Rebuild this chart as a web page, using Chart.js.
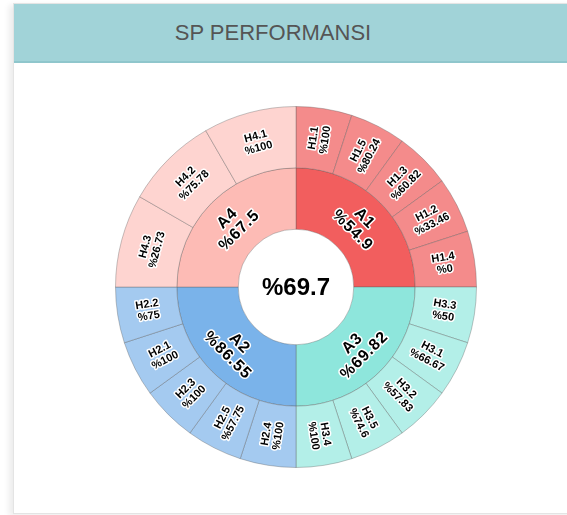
<!DOCTYPE html>
<html>
<head>
<meta charset="utf-8">
<script src="https://cdn.jsdelivr.net/npm/chart.js@4/dist/chart.umd.min.js"></script>
<style>
    body { margin: 0; background: #fff; font-family: "Liberation Sans", Arial, sans-serif; }
    .card {
        position: absolute; left: 13px; top: 3px; width: 570px; height: 509px;
        background: #fff; border: 1px solid #e4e4e4;
        box-shadow: -4px 2px 6px rgba(0,0,0,0.08);
    }
    .card-header {
        height: 57px; background: #a1d3d8; border-bottom: 2px solid #8fc6cc;
        color: #555; font-size: 22px; line-height: 57px; text-align: center;
        padding-right: 52px;
    }
    #wrap { position: absolute; left: 106px; top: 97px; width: 380px; height: 380px; }
</style>
</head>
<body>
<div class="card"><div class="card-header">SP PERFORMANSI</div></div>
<div id="wrap"><canvas id="myChart"></canvas></div>
<script>
// grupos (anillo interior), en orden horario desde arriba
const groupLabels = ['A1', 'A3', 'A2', 'A4'];
const groupValues = [54.9, 69.82, 86.55, 67.5];
const totalValue = 69.7;

// hijos de cada grupo (anillo exterior)
const a1Items = ['H1.1', 'H1.5', 'H1.3', 'H1.2', 'H1.4'];
const a1Values = [100, 80.24, 60.82, 33.46, 0];
const a3Items = ['H3.3', 'H3.1', 'H3.2', 'H3.5', 'H3.4'];
const a3Values = [50, 66.67, 57.83, 74.6, 100];
const a2Items = ['H2.4', 'H2.5', 'H2.3', 'H2.1', 'H2.2'];
const a2Values = [100, 57.75, 100, 100, 75];
const a4Items = ['H4.3', 'H4.2', 'H4.1'];
const a4Values = [26.73, 75.78, 100];

const groupColors = ['#f25e5e', '#8ee6dc', '#7ab3ea', '#fdbbb5'];
const itemColors = ['#f48b8b', '#b3efe8', '#a4caf0', '#fed4d0'];

const groupItems = [a1Items, a3Items, a2Items, a4Items];
const groupItemValues = [a1Values, a3Values, a2Values, a4Values];

// anillo exterior
const outer = { data: [], backgroundColor: [], labelLines: [], labelMode: [], labelFont: 11, labelLineH: 12, labelSp: '0px' };
groupItems.forEach((items, g) => {
    items.forEach((name, i) => {
        outer.data.push(1 / items.length);
        outer.backgroundColor.push(itemColors[g]);
        outer.labelLines.push([name, '%' + groupItemValues[g][i]]);
        outer.labelMode.push(g === 3 ? 'tan' : 'rad');
    });
});

const inner = {
    data: groupLabels.map(() => 1),
    backgroundColor: groupColors,
    labelLines: groupLabels.map((l, i) => [l, '%' + groupValues[i]]),
    labelMode: groupLabels.map(() => 'tan'),
    labelFont: 16, labelLineH: 17, labelSp: '1px'
};

const ringLabels = {
    id: 'ringLabels',
    afterDatasetsDraw(chart) {
        const ctx = chart.ctx;
        chart.data.datasets.forEach((ds, di) => {
            const meta = chart.getDatasetMeta(di);
            meta.data.forEach((arc, i) => {
                const p = arc.getProps(['x', 'y', 'startAngle', 'endAngle', 'innerRadius', 'outerRadius'], true);
                const a = (p.startAngle + p.endAngle) / 2;
                const r = (p.innerRadius + p.outerRadius) / 2;
                let rot = ds.labelMode[i] === 'tan' ? a + Math.PI / 2 : a;
                if (Math.cos(rot) < -1e-6) rot += Math.PI;
                const lines = ds.labelLines[i];
                ctx.save();
                ctx.translate(p.x + r * Math.cos(a), p.y + r * Math.sin(a));
                ctx.rotate(rot);
                ctx.font = 'bold ' + ds.labelFont + 'px "Liberation Sans", Arial, sans-serif';
                ctx.letterSpacing = ds.labelSp;
                ctx.textAlign = 'center';
                ctx.textBaseline = 'middle';
                ctx.lineJoin = 'round';
                ctx.lineWidth = 3;
                ctx.strokeStyle = '#fff';
                ctx.fillStyle = '#000';
                lines.forEach((t, k) => {
                    const yy = (k - (lines.length - 1) / 2) * ds.labelLineH;
                    ctx.strokeText(t, 0, yy);
                    ctx.fillText(t, 0, yy);
                });
                ctx.restore();
            });
        });
        // texto central
        const m = chart.getDatasetMeta(1).data[0];
        ctx.save();
        ctx.font = 'bold 24px "Liberation Sans", Arial, sans-serif';
        ctx.textAlign = 'center';
        ctx.textBaseline = 'middle';
        ctx.fillStyle = '#000';
        ctx.fillText('%' + totalValue, m.x, m.y + 1);
        ctx.restore();
    }
};

const ctx = document.getElementById('myChart').getContext('2d');
const chart = new Chart(ctx, {
    type: 'doughnut',
    data: {
        labels: outer.labelLines.map(l => l[0]),
        datasets: [
            Object.assign({ borderColor: 'rgba(90,90,90,0.35)', borderWidth: 1 }, outer),
            Object.assign({ borderColor: 'rgba(90,90,90,0.35)', borderWidth: 1 }, inner)
        ]
    },
    options: {
        responsive: true,
        maintainAspectRatio: false,
        animation: false,
        cutout: '32%',
        layout: { padding: 9 },
        plugins: { legend: { display: false }, tooltip: { enabled: false } }
    },
    plugins: [ringLabels]
});
</script>
</body>
</html>
